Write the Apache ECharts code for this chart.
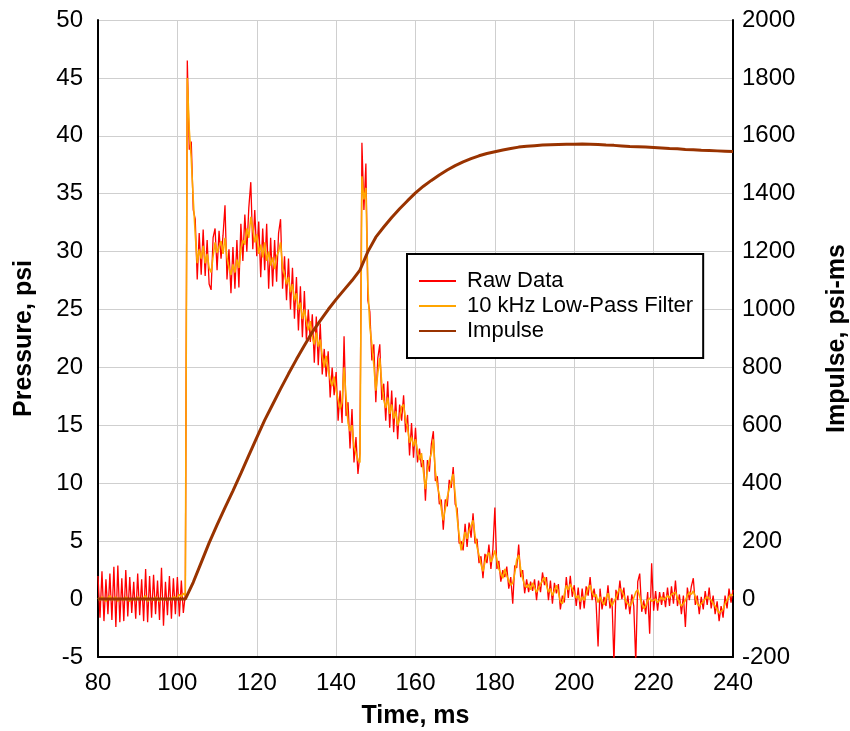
<!DOCTYPE html>
<html>
<head>
<meta charset="utf-8">
<script src="https://cdn.jsdelivr.net/npm/echarts@6/dist/echarts.min.js"></script>
<style>
html,body{margin:0;padding:0;background:#fff;}
#chart{width:850px;height:731px;}
</style>
</head>
<body>
<div id="chart"></div>
<script>
// Sampling of pressure records
const sampleStart = 80;   // ms
const sampleStep = 0.5;   // ms

// Raw pressure (psi), one value per sample
const rawPressure = [
  2.0,-1.6,2.4,-1.9,1.7,-1.3,2.2,-1.8,2.8,-2.4,
  2.9,-2.0,1.8,-1.9,2.5,-1.5,1.9,-1.2,1.5,-1.7,
  2.2,-1.4,1.7,-1.9,2.6,-2.0,2.0,-1.6,2.1,-1.3,
  1.6,-1.8,2.7,-2.3,1.5,-1.4,2.0,-1.7,1.8,-1.3,
  1.9,-1.5,1.6,-1.2,0.4,46.5,38.8,39.5,33.6,32.8,
  27.6,31.6,28.0,31.9,27.9,31.0,27.2,26.7,31.2,32.0,
  28.4,31.8,29.4,31.4,34.0,27.6,30.2,26.4,30.4,26.8,
  31.0,26.9,32.4,29.2,33.2,30.0,33.8,36.0,30.2,33.6,
  29.6,32.6,27.8,32.0,28.4,32.4,26.8,31.2,27.0,31.0,
  27.4,31.6,32.8,26.8,29.6,25.8,29.4,25.0,28.6,24.2,
  27.8,23.2,27.0,22.6,26.6,22.4,25.0,22.2,24.6,20.4,
  24.4,20.2,23.8,19.4,21.6,19.2,21.4,17.4,20.0,17.6,
  19.6,15.4,18.0,15.2,22.7,15.8,17.0,13.0,16.4,11.8,
  14.0,10.8,12.6,39.4,33.6,37.6,25.8,24.8,20.6,22.0,
  17.0,20.8,22.0,17.2,18.6,15.4,18.8,14.8,18.0,14.4,
  17.4,13.8,16.8,15.4,17.6,14.4,15.9,12.4,15.2,12.2,
  14.8,11.8,13.0,11.4,12.0,8.5,12.0,11.0,13.4,14.5,
  10.2,10.6,8.2,8.6,6.0,8.6,8.0,10.3,9.6,11.4,
  8.2,7.8,4.8,5.0,4.2,6.5,4.5,6.6,5.3,7.4,
  4.8,5.2,3.1,3.7,1.8,3.9,3.1,4.7,2.6,4.3,
  7.9,2.6,3.3,1.5,2.5,1.9,2.8,0.9,1.9,-0.4,
  2.9,2.7,4.7,1.9,2.5,0.5,1.7,0.6,1.5,0.7,
  1.7,-0.1,1.6,0.6,2.3,1.2,1.9,-0.1,1.6,-0.4,
  1.4,0.5,1.3,-0.9,0.3,-0.3,1.9,0.1,2.0,0.2,
  1.2,-0.6,1.0,-0.9,0.9,-0.8,1.1,0.3,1.9,-0.1,
  0.9,-0.3,-4.1,0.9,-0.9,0.2,-0.6,1.2,-0.8,0.1,
  -5.5,0.8,-0.1,1.6,0.0,1.0,-0.9,0.3,-1.3,0.4,
  -0.6,-5.5,1.5,2.2,-1.1,-0.1,-1.3,0.6,-3.0,3.1,
  -1.0,0.7,-1.0,0.6,-0.5,0.6,-0.7,1.0,-0.6,1.1,
  -0.4,1.6,-0.6,0.4,-1.3,0.3,-2.4,1.0,-0.1,1.1,
  1.8,-0.5,0.3,-1.3,0.2,-0.9,0.7,-0.5,1.0,-0.8,
  0.3,-1.3,-0.2,-1.9,-0.6,-1.6,0.3,-0.8,0.9,-0.3,
  0.8
];

// 10 kHz low-pass filtered pressure (psi), same samples
const filteredPressure = [
  0.1,-0.1,0.2,0.0,-0.2,0.1,0.3,-0.1,0.0,0.2,
  -0.2,0.1,0.0,-0.1,0.2,0.1,-0.2,0.0,0.1,-0.1,
  0.2,0.0,-0.1,0.1,0.3,-0.2,0.0,0.1,-0.1,0.2,
  0.0,-0.2,0.1,0.2,-0.1,0.0,0.1,-0.1,0.2,0.3,
  0.1,0.4,0.2,0.5,0.3,45.0,40.5,38.0,34.5,31.5,
  29.0,30.2,29.4,30.5,29.0,29.8,28.6,28.2,29.6,30.8,
  29.9,30.4,30.9,29.8,31.2,29.5,28.6,28.0,28.9,28.2,
  29.3,28.6,30.2,31.0,30.6,32.0,31.2,33.0,32.0,30.8,
  31.5,29.8,30.6,29.5,30.8,29.2,30.0,28.8,29.5,28.5,
  29.6,30.0,30.8,28.6,28.0,27.2,27.8,26.5,27.2,25.8,
  26.4,25.0,25.6,24.2,25.0,24.0,23.2,24.0,22.6,22.0,
  23.0,21.8,22.4,21.0,20.0,21.0,19.8,19.0,18.4,19.2,
  18.0,17.2,16.4,17.0,20.0,17.5,15.2,14.5,15.0,13.2,
  12.6,12.0,11.8,36.5,34.5,35.5,27.0,23.5,22.0,20.2,
  18.0,19.5,20.8,18.6,17.2,16.5,17.4,16.0,16.8,15.6,
  16.2,15.0,15.6,16.6,16.8,15.5,14.8,13.5,14.0,13.2,
  13.8,12.8,12.0,12.6,11.0,9.5,11.2,12.0,12.6,13.8,
  11.0,9.8,9.0,7.8,6.8,7.8,8.8,9.5,10.2,10.8,
  9.0,7.0,5.5,4.2,5.0,5.8,5.2,5.9,6.0,6.8,
  5.5,4.5,3.8,3.0,2.4,3.2,3.8,4.0,3.2,3.6,
  4.2,3.4,2.6,2.2,1.8,2.6,2.0,1.6,1.2,1.4,
  2.2,3.4,3.8,2.6,1.8,1.2,1.0,1.3,0.8,1.4,
  1.0,0.6,0.9,1.3,1.6,1.9,1.2,0.6,0.9,0.3,
  0.7,1.2,0.6,-0.2,-0.4,0.4,1.2,0.8,1.3,0.9,
  0.5,0.1,0.3,-0.2,0.2,-0.1,0.4,1.0,1.2,0.6,
  0.2,0.4,-0.3,0.2,-0.2,-0.5,0.1,0.5,-0.1,-0.6,
  -0.2,0.1,0.6,0.9,0.7,0.3,-0.2,-0.4,-0.6,-0.3,
  0.1,0.6,0.8,0.2,-0.4,-0.8,-0.6,-0.1,0.1,-0.2,
  -0.3,0.0,-0.3,-0.1,0.2,-0.1,0.0,0.3,0.1,0.4,
  0.3,0.6,0.1,-0.3,-0.6,-0.4,-0.1,0.3,0.6,0.4,
  0.7,0.2,-0.4,-0.6,-0.5,-0.2,0.0,0.2,0.3,-0.1,
  -0.4,-0.6,-0.9,-1.2,-1.3,-0.9,-0.4,-0.1,0.2,0.4,
  0.3
];

// Impulse (psi-ms)
const impulseTime = [80,90,100,102,104,106,108,110,112,114,116,118,120,122,124,126,128,130,132,134,136,138,140,142,144,146,148,150,152,154,156,158,160,162,164,166,168,170,172,174,176,178,180,182,184,186,188,190,192,194,196,198,200,202,204,206,208,210,212,214,216,218,220,222,224,226,228,230,232,234,236,238,240];
const impulseValue = [0,0,0,0,58,126,194,256,316,374,434,496,558,618,672,726,778,828,876,922,962,1000,1035,1068,1100,1136,1200,1250,1285,1318,1348,1376,1403,1426,1446,1465,1482,1497,1510,1521,1531,1539,1545,1551,1556,1561,1564,1566,1568,1569,1570,1571,1571,1572,1571,1570,1568,1567,1565,1563,1562,1561,1560,1558,1556,1555,1553,1552,1550,1549,1548,1547,1546];

// Axis ticks
const timeTicks = {min: 80, max: 240, step: 20};
const pressureTicks = {min: -5, max: 50, step: 5};
const impulseTicks = {min: -200, max: 2000, step: 200};

const seriesNames = ['Raw Data', '10 kHz Low-Pass Filter', 'Impulse'];

const pairs = (vals) => vals.map((v, i) => [sampleStart + i * sampleStep, v]);
const impulsePairs = impulseTime.map((t, i) => [t, impulseValue[i]]);

const FONT = '"Liberation Sans", Arial, sans-serif';
const gridColor = '#CFCFCF';
const plain = (v) => String(v);

const chart = echarts.init(document.getElementById('chart'), null, {renderer: 'canvas'});
chart.setOption({
  animation: false,
  backgroundColor: '#ffffff',
  textStyle: {fontFamily: FONT},
  grid: {left: 98, right: 117, top: 20, bottom: 74, containLabel: false, outerBoundsMode: 'none'},
  legend: {
    orient: 'vertical',
    left: 407, top: 254,
    padding: [15, 10, 15, 11],
    borderColor: '#000', borderWidth: 2,
    backgroundColor: '#fff',
    itemWidth: 37, itemHeight: 14, itemGap: 1,
    itemStyle: {opacity: 0, borderWidth: 0},
    textStyle: {fontFamily: FONT, fontSize: 22, color: '#000', lineHeight: 24, padding: [0, 0, 0, 6]},
    data: seriesNames
  },
  xAxis: {
    type: 'value',
    min: timeTicks.min, max: timeTicks.max, interval: timeTicks.step,
    name: 'Time, ms', nameLocation: 'middle', nameGap: 47,
    nameTextStyle: {fontFamily: FONT, fontSize: 25, fontWeight: 'bold', color: '#000'},
    axisLine: {show: true, onZero: false, lineStyle: {color: '#000', width: 2}},
    axisTick: {show: false},
    axisLabel: {fontFamily: FONT, fontSize: 24, color: '#000', margin: 14, formatter: plain},
    splitLine: {show: true, lineStyle: {color: gridColor, width: 1}}
  },
  yAxis: [{
    type: 'value',
    min: pressureTicks.min, max: pressureTicks.max, interval: pressureTicks.step,
    name: 'Pressure, psi', nameLocation: 'middle', nameGap: 61, nameRotate: 90,
    nameTextStyle: {fontFamily: FONT, fontSize: 25, fontWeight: 'bold', color: '#000'},
    axisLine: {show: true, onZero: false, lineStyle: {color: '#000', width: 2}},
    axisTick: {show: false},
    axisLabel: {fontFamily: FONT, fontSize: 24, color: '#000', margin: 15, formatter: plain},
    splitLine: {show: true, lineStyle: {color: gridColor, width: 1}}
  }, {
    type: 'value', position: 'right',
    min: impulseTicks.min, max: impulseTicks.max, interval: impulseTicks.step,
    name: 'Impulse, psi-ms', nameLocation: 'middle', nameGap: 92, nameRotate: 90,
    nameTextStyle: {fontFamily: FONT, fontSize: 25, fontWeight: 'bold', color: '#000'},
    axisLine: {show: true, onZero: false, lineStyle: {color: '#000', width: 2}},
    axisTick: {show: false},
    axisLabel: {fontFamily: FONT, fontSize: 24, color: '#000', margin: 9, formatter: plain},
    splitLine: {show: false}
  }],
  series: [{
    name: seriesNames[0], type: 'line', data: pairs(rawPressure),
    symbol: 'none', clip: true,
    lineStyle: {color: '#FF0000', width: 1.3}, itemStyle: {color: '#FF0000'}, z: 2
  }, {
    name: seriesNames[1], type: 'line', data: pairs(filteredPressure),
    symbol: 'none', clip: true,
    lineStyle: {color: '#FFA500', width: 1.6}, itemStyle: {color: '#FFA500'}, z: 3
  }, {
    name: seriesNames[2], type: 'line', yAxisIndex: 1, data: impulsePairs,
    symbol: 'none', clip: true,
    lineStyle: {color: '#993300', width: 3}, itemStyle: {color: '#993300'}, z: 4
  }]
});
</script>
</body>
</html>
